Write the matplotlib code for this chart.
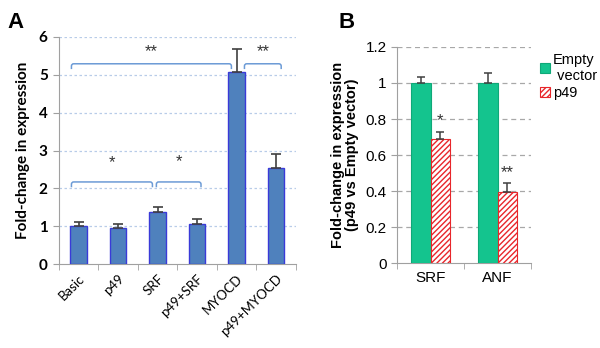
import matplotlib
matplotlib.use("Agg")
import matplotlib.pyplot as plt
from matplotlib.path import Path
from matplotlib.patches import PathPatch
import numpy as np

# ── data ──────────────────────────────────────────────────────────────────────
A_CATS   = ["Basic", "p49", "SRF", "p49+SRF", "MYOCD", "p49+MYOCD"]
A_VALUES = [1.00, 0.95, 1.37, 1.07, 5.08, 2.53]
A_ERRORS = [0.12, 0.12, 0.15, 0.12, 0.60, 0.38]
# brackets: (left x, right x, bracket height, star height, label)
A_BRACKETS = [(-0.18, 3.87, 5.29, 5.62, "**"), (4.2, 5.13, 5.29, 5.62, "**"),
              (-0.18, 1.87, 2.17, 2.68, "*"), (1.97, 3.1, 2.17, 2.7, "*")]

B_CATS    = ["SRF", "ANF"]
B_EMPTY   = [1.00, 1.00]
B_EMPTY_E = [0.035, 0.055]
B_P49     = [0.69, 0.395]
B_P49_E   = [0.04, 0.05]
B_STARS   = ["*", "**"]

BAR_BLUE  = "#4F81BD"
EDGE_BLUE = "#3A3AD8"
BRACKET   = "#6C9BD6"
GREEN     = "#14C48E"
RED       = "#E8262B"

plt.rcParams["font.family"] = ["Lato", "DejaVu Sans"]
plt.rcParams["hatch.linewidth"] = 1.0
fB = ["Liberation Sans", "DejaVu Sans"]

fig = plt.figure(figsize=(6.0, 3.48), dpi=100)


def bracket(ax, x0, x1, y, drop=0.14, r=0.06):
    """Square bracket with slightly rounded top corners."""
    verts = [(x0, y - drop), (x0, y - r), (x0, y), (x0 + r, y),
             (x1 - r, y), (x1, y), (x1, y - r), (x1, y - drop)]
    codes = [Path.MOVETO, Path.LINETO, Path.CURVE3, Path.CURVE3,
             Path.LINETO, Path.CURVE3, Path.CURVE3, Path.LINETO]
    ax.add_patch(PathPatch(Path(verts, codes), fill=False, edgecolor=BRACKET,
                           linewidth=1.1, zorder=5, clip_on=False))


# ── panel A ───────────────────────────────────────────────────────────────────
axA = fig.add_axes([0.098, 0.241, 0.395, 0.653])
x = np.arange(len(A_CATS))
axA.bar(x, A_VALUES, width=0.41, color=BAR_BLUE, edgecolor=EDGE_BLUE,
        linewidth=1.0, zorder=3)
axA.errorbar(x, A_VALUES, yerr=[np.zeros(len(A_ERRORS)), A_ERRORS], fmt="none",
             ecolor="#404040", elinewidth=1.2, capsize=3.5, capthick=1.2, zorder=4)
axA.set_xlim(-0.5, len(A_CATS) - 0.5)
axA.set_ylim(0, 6)
axA.set_yticks(range(7))
axA.set_yticklabels([str(v) for v in range(7)], fontsize=11, fontweight="bold")
axA.set_xticks(x)
axA.set_xticklabels(A_CATS, rotation=45, ha="right", rotation_mode="anchor",
                    fontsize=9.5)
axA.tick_params(axis="x", length=0, pad=6)
axA.set_xticks(np.arange(-0.5, len(A_CATS)), minor=True)
axA.tick_params(axis="x", which="minor", length=4, color="#A0A0A0")
axA.tick_params(axis="y", length=4, color="#A0A0A0", pad=4)
for yv in range(1, 7):
    axA.axhline(yv, color="#B8CCE8", linestyle=(0, (2, 2)), linewidth=0.9, zorder=1)
for side in ["top", "right"]:
    axA.spines[side].set_visible(False)
for side in ["left", "bottom"]:
    axA.spines[side].set_color("#A0A0A0")
axA.set_ylabel("Fold-change in expression", fontsize=11, fontweight="bold",
               labelpad=6)

for x0, x1, yb, ys, lab in A_BRACKETS:
    bracket(axA, x0, x1, yb)
    axA.text((x0 + x1) / 2, ys, lab, ha="center", va="center",
             fontsize=12, color="#333333", family=fB)

fig.text(0.012, 0.965, "A", fontsize=16, fontweight="bold", va="top", family=fB)

# ── panel B ───────────────────────────────────────────────────────────────────
axB = fig.add_axes([0.662, 0.244, 0.223, 0.621])
xb = np.arange(len(B_CATS))
w = 0.29
axB.bar(xb - w / 2, B_EMPTY, width=w, color=GREEN, edgecolor="#0FA878",
        linewidth=0.8, zorder=3, label="Empty\n vector")
axB.bar(xb + w / 2, B_P49, width=w, color="white", edgecolor=RED, hatch="//////",
        linewidth=0.8, zorder=3, label="p49")
axB.errorbar(xb - w / 2, B_EMPTY, yerr=[np.zeros(2), B_EMPTY_E], fmt="none",
             ecolor="#404040", elinewidth=1.1, capsize=3, capthick=1.1, zorder=4)
axB.errorbar(xb + w / 2, B_P49, yerr=[np.zeros(2), B_P49_E], fmt="none",
             ecolor="#404040", elinewidth=1.1, capsize=3, capthick=1.1, zorder=4)
for xi, v, e, s in zip(xb, B_P49, B_P49_E, B_STARS):
    axB.text(xi + w / 2, v + e + 0.06, s, ha="center", va="center", fontsize=12,
             color="#333333", family=fB)
axB.set_xlim(-0.5, len(B_CATS) - 0.5)
axB.set_ylim(0, 1.2)
yt = [0, 0.2, 0.4, 0.6, 0.8, 1.0, 1.2]
axB.set_yticks(yt)
axB.set_yticklabels(["0", "0.2", "0.4", "0.6", "0.8", "1", "1.2"], fontsize=11,
                    family=fB)
axB.set_xticks(xb)
axB.set_xticklabels(B_CATS, fontsize=11, family=fB)
axB.tick_params(axis="x", length=0, pad=6)
axB.set_xticks(np.arange(-0.5, len(B_CATS)), minor=True)
axB.tick_params(axis="x", which="minor", length=4, color="#A0A0A0")
axB.tick_params(axis="y", length=4, color="#A0A0A0")
for yv in yt[1:]:
    axB.axhline(yv, color="#A8A8A8", linestyle=(0, (4, 3)), linewidth=0.9, zorder=1)
for side in ["top", "right"]:
    axB.spines[side].set_visible(False)
for side in ["left", "bottom"]:
    axB.spines[side].set_color("#A0A0A0")
axB.set_ylabel("Fold-change in expression\n(p49 vs Empty vector)", fontsize=10.5,
               fontweight="bold", family=fB, labelpad=5, linespacing=1.0)
axB.legend(loc="upper left", bbox_to_anchor=(1.02, 1.0), frameon=False,
           prop={"family": fB, "size": 10.5}, handlelength=0.7, handleheight=0.7,
           handletextpad=0.2, labelspacing=0.2, borderaxespad=0)

fig.text(0.565, 0.965, "B", fontsize=16, fontweight="bold", va="top", family=fB)

fig.savefig("out.png", dpi=100)
